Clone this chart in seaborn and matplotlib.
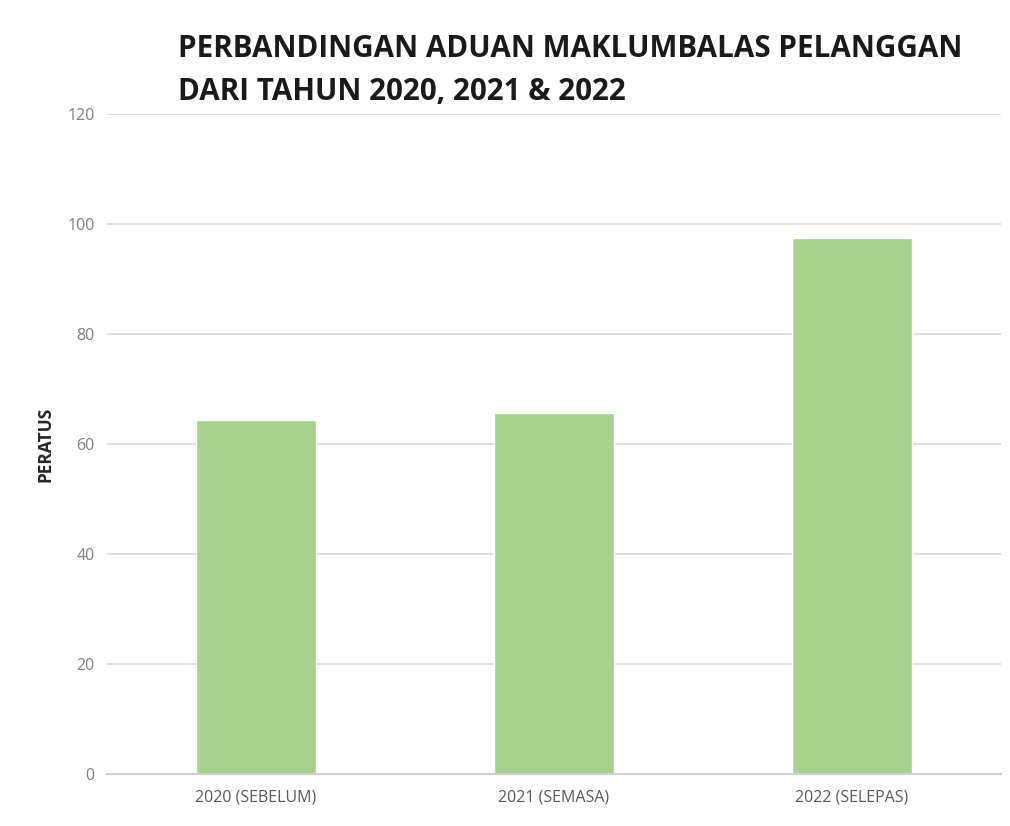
import matplotlib
matplotlib.use("Agg")
import matplotlib.pyplot as plt
import seaborn as sns
import pandas as pd

categories = ["2020 (SEBELUM)", "2021 (SEMASA)", "2022 (SELEPAS)"]
values = [64.4, 65.6, 97.5]
yticks = [0, 20, 40, 60, 80, 100, 120]

sns.set_theme(style="white")
plt.rcParams['font.family'] = ['Open Sans', 'DejaVu Sans']

df = pd.DataFrame({"cat": categories, "val": values})

fig = plt.figure(figsize=(10.10, 8.26), dpi=100)
ax = fig.add_axes([0.106, 0.063, 0.885, 0.799])
sns.barplot(data=df, x="cat", y="val", color="#A9D18E", width=0.4, ax=ax, saturation=1)

ax.set_ylim(0, 120)
ax.set_yticks(yticks)
ax.set_yticklabels([str(t) for t in yticks], color="#7f7f7f", fontsize=11.5)
ax.set_xticklabels(categories, color="#595959", fontsize=11.5)
ax.yaxis.grid(True, color="#d9d9d9", linewidth=1.2)
ax.set_axisbelow(True)
for s in ["top", "right", "left"]:
    ax.spines[s].set_visible(False)
ax.spines["bottom"].set_color("#d0d0d0")
ax.spines["bottom"].set_linewidth(1.5)
ax.tick_params(axis="x", length=0, pad=11)
ax.tick_params(axis="y", length=0, pad=9)
ax.set_xlabel("")
ax.set_ylabel("PERATUS", fontsize=12.5, fontweight="bold", color="#262626", labelpad=9)

fig.text(0.176, 0.915, "PERBANDINGAN ADUAN MAKLUMBALAS PELANGGAN\nDARI TAHUN 2020, 2021 & 2022",
         fontsize=21.3, fontweight="bold", color="#1a1a1a", ha="left", va="center", linespacing=1.55)

fig.savefig("out.png", dpi=100, facecolor="white")
